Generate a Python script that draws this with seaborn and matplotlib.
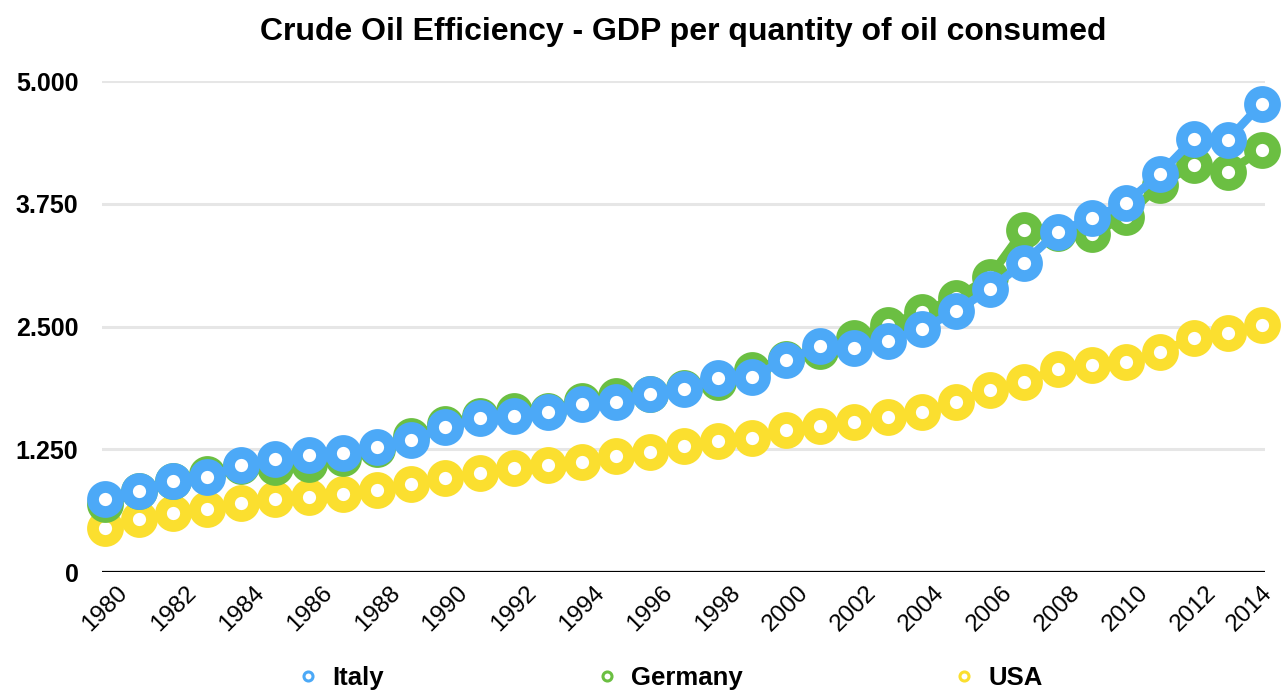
import matplotlib
matplotlib.use("Agg")
import matplotlib.pyplot as plt
import matplotlib.transforms as mtransforms
from matplotlib.lines import Line2D
from matplotlib.ticker import FuncFormatter
import seaborn as sns
import pandas as pd

years = list(range(1980, 2015))

italy = [745, 830, 925, 970, 1090, 1150, 1190, 1210, 1276, 1344,
         1473, 1565, 1588, 1632, 1710, 1734, 1815, 1863, 1972, 1988,
         2155, 2300, 2285, 2357, 2472, 2655, 2878, 3149, 3464, 3601,
         3753, 4052, 4408, 4398, 4771]

germany = [690, 820, 930, 995, 1080, 1070, 1100, 1160, 1250, 1380,
           1510, 1590, 1640, 1640, 1740, 1790, 1815, 1870, 1930, 2060,
           2170, 2250, 2379, 2514, 2650, 2786, 3006, 3482, 3450, 3440,
           3617, 3940, 4143, 4075, 4296]

usa = [448, 540, 601, 641, 702, 743, 764, 794, 835, 896,
       957, 1008, 1059, 1089, 1120, 1181, 1222, 1283, 1334, 1364,
       1446, 1486, 1527, 1578, 1629, 1731, 1853, 1934, 2067, 2107,
       2138, 2240, 2382, 2433, 2514]

series_names = ["Italy", "Germany", "USA"]
series_colors = {"Italy": "#4ca9f7", "Germany": "#6bbf42", "USA": "#fbdf2f"}

title = "Crude Oil Efficiency - GDP per quantity of oil consumed"
y_ticks = [0, 1250, 2500, 3750, 5000]
x_ticks = list(range(1980, 2015, 2))

df = pd.DataFrame({
    "year": years * 3,
    "value": italy + germany + usa,
    "country": ["Italy"] * len(years) + ["Germany"] * len(years) + ["USA"] * len(years),
})

sns.set_theme(style="white")
plt.rcParams["font.family"] = ["Liberation Sans", "DejaVu Sans"]
plt.rcParams["text.color"] = "black"
plt.rcParams["xtick.color"] = "black"
plt.rcParams["ytick.color"] = "black"

fig = plt.figure(figsize=(12.87, 6.92), dpi=100)
ax = fig.add_axes([0.0793, 0.1734, 0.9036, 0.7095])

# draw bottom series first so Italy sits on top
for z, name in zip([3, 4, 5], ["USA", "Germany", "Italy"]):
    sub = df[df["country"] == name]
    c = series_colors[name]
    sns.lineplot(data=sub, x="year", y="value", ax=ax, color=c,
                 linewidth=6, marker="o", markersize=18,
                 markeredgewidth=8.5, markerfacecolor="white",
                 markeredgecolor=c, clip_on=False, zorder=z,
                 legend=False, estimator=None)

ax.set_xlim(1979.9, 2014.1)
ax.set_ylim(0, 5000)
ax.set_yticks(y_ticks)
ax.yaxis.set_major_formatter(FuncFormatter(
    lambda v, p: "0" if v == 0 else f"{int(v):,}".replace(",", ".")))
ax.set_xticks(x_ticks)
ax.set_xticklabels([str(t) for t in x_ticks], rotation=45,
                   ha="center", va="top", fontsize=17.5)
for lab in ax.get_yticklabels():
    lab.set_fontsize(18)
    lab.set_fontweight("bold")
ax.tick_params(axis="y", length=0, pad=17)
ax.tick_params(axis="x", length=0, pad=7)

# keep the right-most year label inside the figure
last = ax.get_xticklabels()[-1]
last.set_transform(last.get_transform() +
                   mtransforms.ScaledTranslation(-12 / 100, 0, fig.dpi_scale_trans))

ax.grid(False)
for v in y_ticks[1:]:
    ax.axhline(v, color="#e6e6e6", linewidth=2.2, zorder=1)
ax.axhline(0, color="black", linewidth=1.6, zorder=2)

for s in ax.spines.values():
    s.set_visible(False)
ax.set_xlabel("")
ax.set_ylabel("")

ax.text(0.5, 1 - 32 / 692, title, transform=mtransforms.blended_transform_factory(
    ax.transAxes, fig.transFigure), ha="center", va="center",
    fontsize=23, fontweight="bold")

# legend entries, each centered in its own column
for name, xc in zip(series_names, [336, 665, 994]):
    c = series_colors[name]
    h = Line2D([], [], linestyle="none", marker="o", markersize=6.5,
               markeredgewidth=2.2, markerfacecolor="white",
               markeredgecolor=c, label=name)
    fig.legend(handles=[h], loc="center",
               bbox_to_anchor=(xc / 1287, 1 - 678 / 692),
               frameon=False, handletextpad=0.2, handlelength=1.5,
               prop={"size": 18.5, "weight": "bold"})

fig.savefig("out.png", dpi=100)
